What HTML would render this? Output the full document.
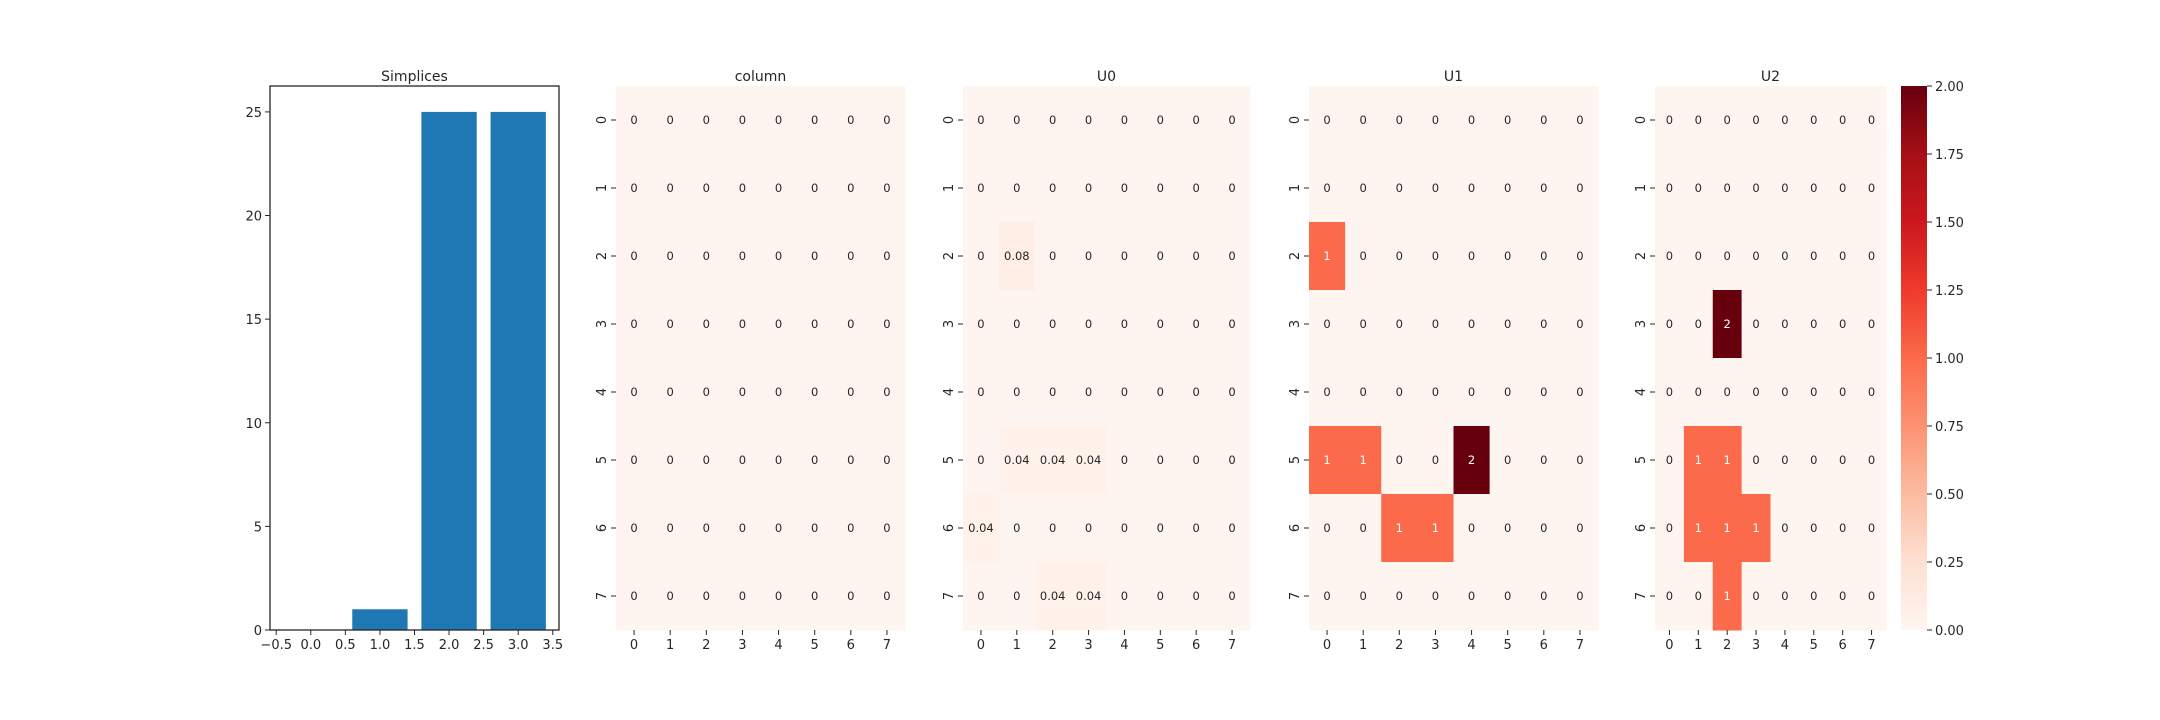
<!DOCTYPE html>
<html><head><meta charset="utf-8"><style>body{margin:0;background:#fff}svg{display:block}text{font-family:"DejaVu Sans","Liberation Sans",sans-serif;fill:#262626}</style></head>
<body>
<svg id="c" width="2160" height="720" xmlns="http://www.w3.org/2000/svg"></svg>
<script>
const barCats=[0,1,2,3];
const barVals=[0,1,25,25];
const barYTicks=[0,5,10,15,20,25];
const barXTicks=[-0.5,0,0.5,1,1.5,2,2.5,3,3.5];
const titles=["column","U0","U1","U2"];
const matColumn=[[0,0,0,0,0,0,0,0],[0,0,0,0,0,0,0,0],[0,0,0,0,0,0,0,0],[0,0,0,0,0,0,0,0],[0,0,0,0,0,0,0,0],[0,0,0,0,0,0,0,0],[0,0,0,0,0,0,0,0],[0,0,0,0,0,0,0,0]];
const matU0=[[0,0,0,0,0,0,0,0],[0,0,0,0,0,0,0,0],[0,0.08,0,0,0,0,0,0],[0,0,0,0,0,0,0,0],[0,0,0,0,0,0,0,0],[0,0.04,0.04,0.04,0,0,0,0],[0.04,0,0,0,0,0,0,0],[0,0,0.04,0.04,0,0,0,0]];
const matU1=[[0,0,0,0,0,0,0,0],[0,0,0,0,0,0,0,0],[1,0,0,0,0,0,0,0],[0,0,0,0,0,0,0,0],[0,0,0,0,0,0,0,0],[1,1,0,0,2,0,0,0],[0,0,1,1,0,0,0,0],[0,0,0,0,0,0,0,0]];
const matU2=[[0,0,0,0,0,0,0,0],[0,0,0,0,0,0,0,0],[0,0,0,0,0,0,0,0],[0,0,2,0,0,0,0,0],[0,0,0,0,0,0,0,0],[0,1,1,0,0,0,0,0],[0,1,1,1,0,0,0,0],[0,0,1,0,0,0,0,0]];
const cbTicks=[0,0.25,0.5,0.75,1,1.25,1.5,1.75,2];
const svg=document.getElementById('c');const NS='http://www.w3.org/2000/svg';
function el(t,a,txt){const e=document.createElementNS(NS,t);for(const k in a)e.setAttribute(k,a[k]);if(txt!==undefined)e.textContent=txt;svg.appendChild(e);return e;}
const stops=["#fff5f0","#fee0d2","#fcbba1","#fc9272","#fb6a4a","#ef3b2c","#cb181d","#a50f15","#67000d"].map(h=>[1,3,5].map(i=>parseInt(h.substr(i,2),16)));
function reds(t){t=Math.max(0,Math.min(1,t))*8;const i=Math.min(7,Math.floor(t)),f=t-i;return stops[i].map((v,k)=>Math.round(v+(stops[i+1][k]-v)*f));}
const axTop=86,axBot=630;
const bx0=270,bx1=559,xmin=-0.59,xmax=3.59,ymax=26.25;
const X=v=>bx0+(v-xmin)/(xmax-xmin)*(bx1-bx0),Y=v=>axBot-v/ymax*(axBot-axTop);
let e;
barVals.forEach((v,i)=>{e=el('rect',{x:X(barCats[i]-0.4),y:Y(v),width:X(barCats[i]+0.4)-X(barCats[i]-0.4),height:axBot-Y(v),fill:'#1f77b4'});

});
e=el('rect',{x:bx0,y:axTop,width:bx1-bx0,height:axBot-axTop,fill:'none',stroke:'#262626','stroke-width':1.3});


barYTicks.forEach(v=>{el('line',{x1:bx0-5,x2:bx0,y1:Y(v),y2:Y(v),stroke:'#262626'});e=el('text',{x:bx0-8,y:Y(v)+5,'text-anchor':'end','font-size':13},v);

});
barXTicks.forEach(v=>{el('line',{x1:X(v),x2:X(v),y1:axBot,y2:axBot+5,stroke:'#262626'});e=el('text',{x:X(v),y:axBot+19,'text-anchor':'middle','font-size':13},v.toFixed(1).replace('-','\u2212'));

});
e=el('text',{x:(bx0+bx1)/2,y:81,'text-anchor':'middle','font-size':14},'Simplices');


const mats=[matColumn,matU0,matU1,matU2];
const lefts=[616,963,1309,1655],rights=[905,1250,1598,1886];
mats.forEach((m,h)=>{const L=lefts[h],R=rights[h],cw=(R-L)/8,rh=(axBot-axTop)/8;
m.forEach((row,r)=>row.forEach((v,c)=>{const col=reds(v/2);
e=el('rect',{x:L+c*cw,y:axTop+r*rh,width:cw+0.5,height:rh+0.5,fill:'rgb('+col.join(',')+')'});


const lum=(0.2126*col[0]+0.7152*col[1]+0.0722*col[2])/255;
e=el('text',{x:L+(c+0.5)*cw,y:axTop+(r+0.5)*rh+4,'text-anchor':'middle','font-size':11.5,style:'fill:'+(lum>0.55?'#262626':'#fff')},String(v));

}));
for(let i=0;i<8;i++){const y=axTop+(i+0.5)*rh,x=L+(i+0.5)*cw;
el('line',{x1:L-5,x2:L,y1:y,y2:y,stroke:'#262626'});
e=el('text',{x:0,y:0,'text-anchor':'middle','font-size':13,transform:`translate(${L-10},${y}) rotate(-90)`},i);


el('line',{x1:x,x2:x,y1:axBot,y2:axBot+5,stroke:'#262626'});
e=el('text',{x:x,y:axBot+19,'text-anchor':'middle','font-size':13},i);

}
e=el('text',{x:(L+R)/2,y:81,'text-anchor':'middle','font-size':14},titles[h]);

});
const defs=el('defs',{});const g=document.createElementNS(NS,'linearGradient');g.setAttribute('id','gr');g.setAttribute('x1','0');g.setAttribute('y1','1');g.setAttribute('x2','0');g.setAttribute('y2','0');defs.appendChild(g);
for(let i=0;i<=8;i++){const s=document.createElementNS(NS,'stop');s.setAttribute('offset',i/8);s.setAttribute('stop-color','rgb('+stops[i].join(',')+')');g.appendChild(s);}
e=el('rect',{x:1901,y:axTop,width:26,height:axBot-axTop,fill:'url(#gr)'});


cbTicks.forEach(v=>{const y=axBot-v/2*(axBot-axTop);el('line',{x1:1927,x2:1932,y1:y,y2:y,stroke:'#262626'});
e=el('text',{x:1935,y:y+5,'font-size':13},v.toFixed(2));

});
</script>
</body></html>
